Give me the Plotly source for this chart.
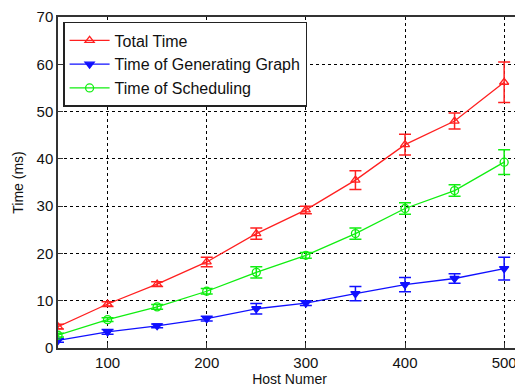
import plotly.graph_objects as go

hosts = [50, 100, 150, 200, 250, 300, 350, 400, 450, 500]
total = [4.5, 9.3, 13.5, 18.2, 24.2, 29.2, 35.5, 43.0, 48.0, 56.2]
total_err = [0.5, 0.5, 0.5, 1.0, 1.2, 0.8, 2.0, 2.2, 1.7, 4.3]
gen = [1.6, 3.4, 4.7, 6.2, 8.3, 9.5, 11.5, 13.4, 14.7, 16.8]
gen_err = [0.4, 0.5, 0.4, 0.5, 1.1, 0.5, 1.5, 1.5, 1.0, 2.4]
sched = [2.7, 6.0, 8.7, 12.0, 16.0, 19.6, 24.2, 29.5, 33.3, 39.3]
sched_err = [0.4, 0.4, 0.5, 0.6, 1.2, 0.6, 1.2, 1.2, 1.2, 2.6]

series = [
    ("Total Time", total, total_err, "#ff2020", "triangle-up-open"),
    ("Time of Generating Graph", gen, gen_err, "#1010ff", "triangle-down"),
    ("Time of Scheduling", sched, sched_err, "#10ee10", "circle-open"),
]

fig = go.Figure()
for name, y, e, c, sym in series:
    fig.add_trace(go.Scatter(
        x=hosts, y=y, name=name, mode="lines+markers",
        line=dict(color=c, width=1.3),
        marker=dict(symbol=sym, size=8, color=c, line=dict(color=c, width=1.3)),
        error_y=dict(type="data", array=e, visible=True, color=c, thickness=1.5, width=6),
    ))

axis_common = dict(
    showline=True, linecolor="#333", linewidth=1.5, mirror=True,
    ticks="inside", ticklen=5, tickcolor="#333",
    showgrid=True, gridcolor="black", griddash="dot", gridwidth=1,
    zeroline=False, ticklabeloverflow="allow",
    tickfont=dict(family="Liberation Sans, Arial", size=15, color="#111"),
)

fig.update_layout(
    width=515, height=379,
    margin=dict(l=50, r=0, t=7, b=39),
    paper_bgcolor="white", plot_bgcolor="white",
    font=dict(family="Liberation Sans, Arial", color="#111"),
    xaxis=dict(range=[50, 517], tickvals=[100, 200, 300, 400, 500],
               title=dict(text="Host Numer", font=dict(size=14), standoff=0), **axis_common),
    yaxis=dict(range=[0, 70], tickvals=list(range(0, 71, 10)),
               title=dict(text="Time (ms)", font=dict(size=14), standoff=10), **axis_common),
    legend=dict(x=0.011, y=0.985, xanchor="left", yanchor="top",
                bordercolor="#222", borderwidth=1.5, bgcolor="white",
                font=dict(size=16, color="#111"), tracegroupgap=0, itemwidth=40),
    showlegend=True,
)

fig.write_html("out.html")
